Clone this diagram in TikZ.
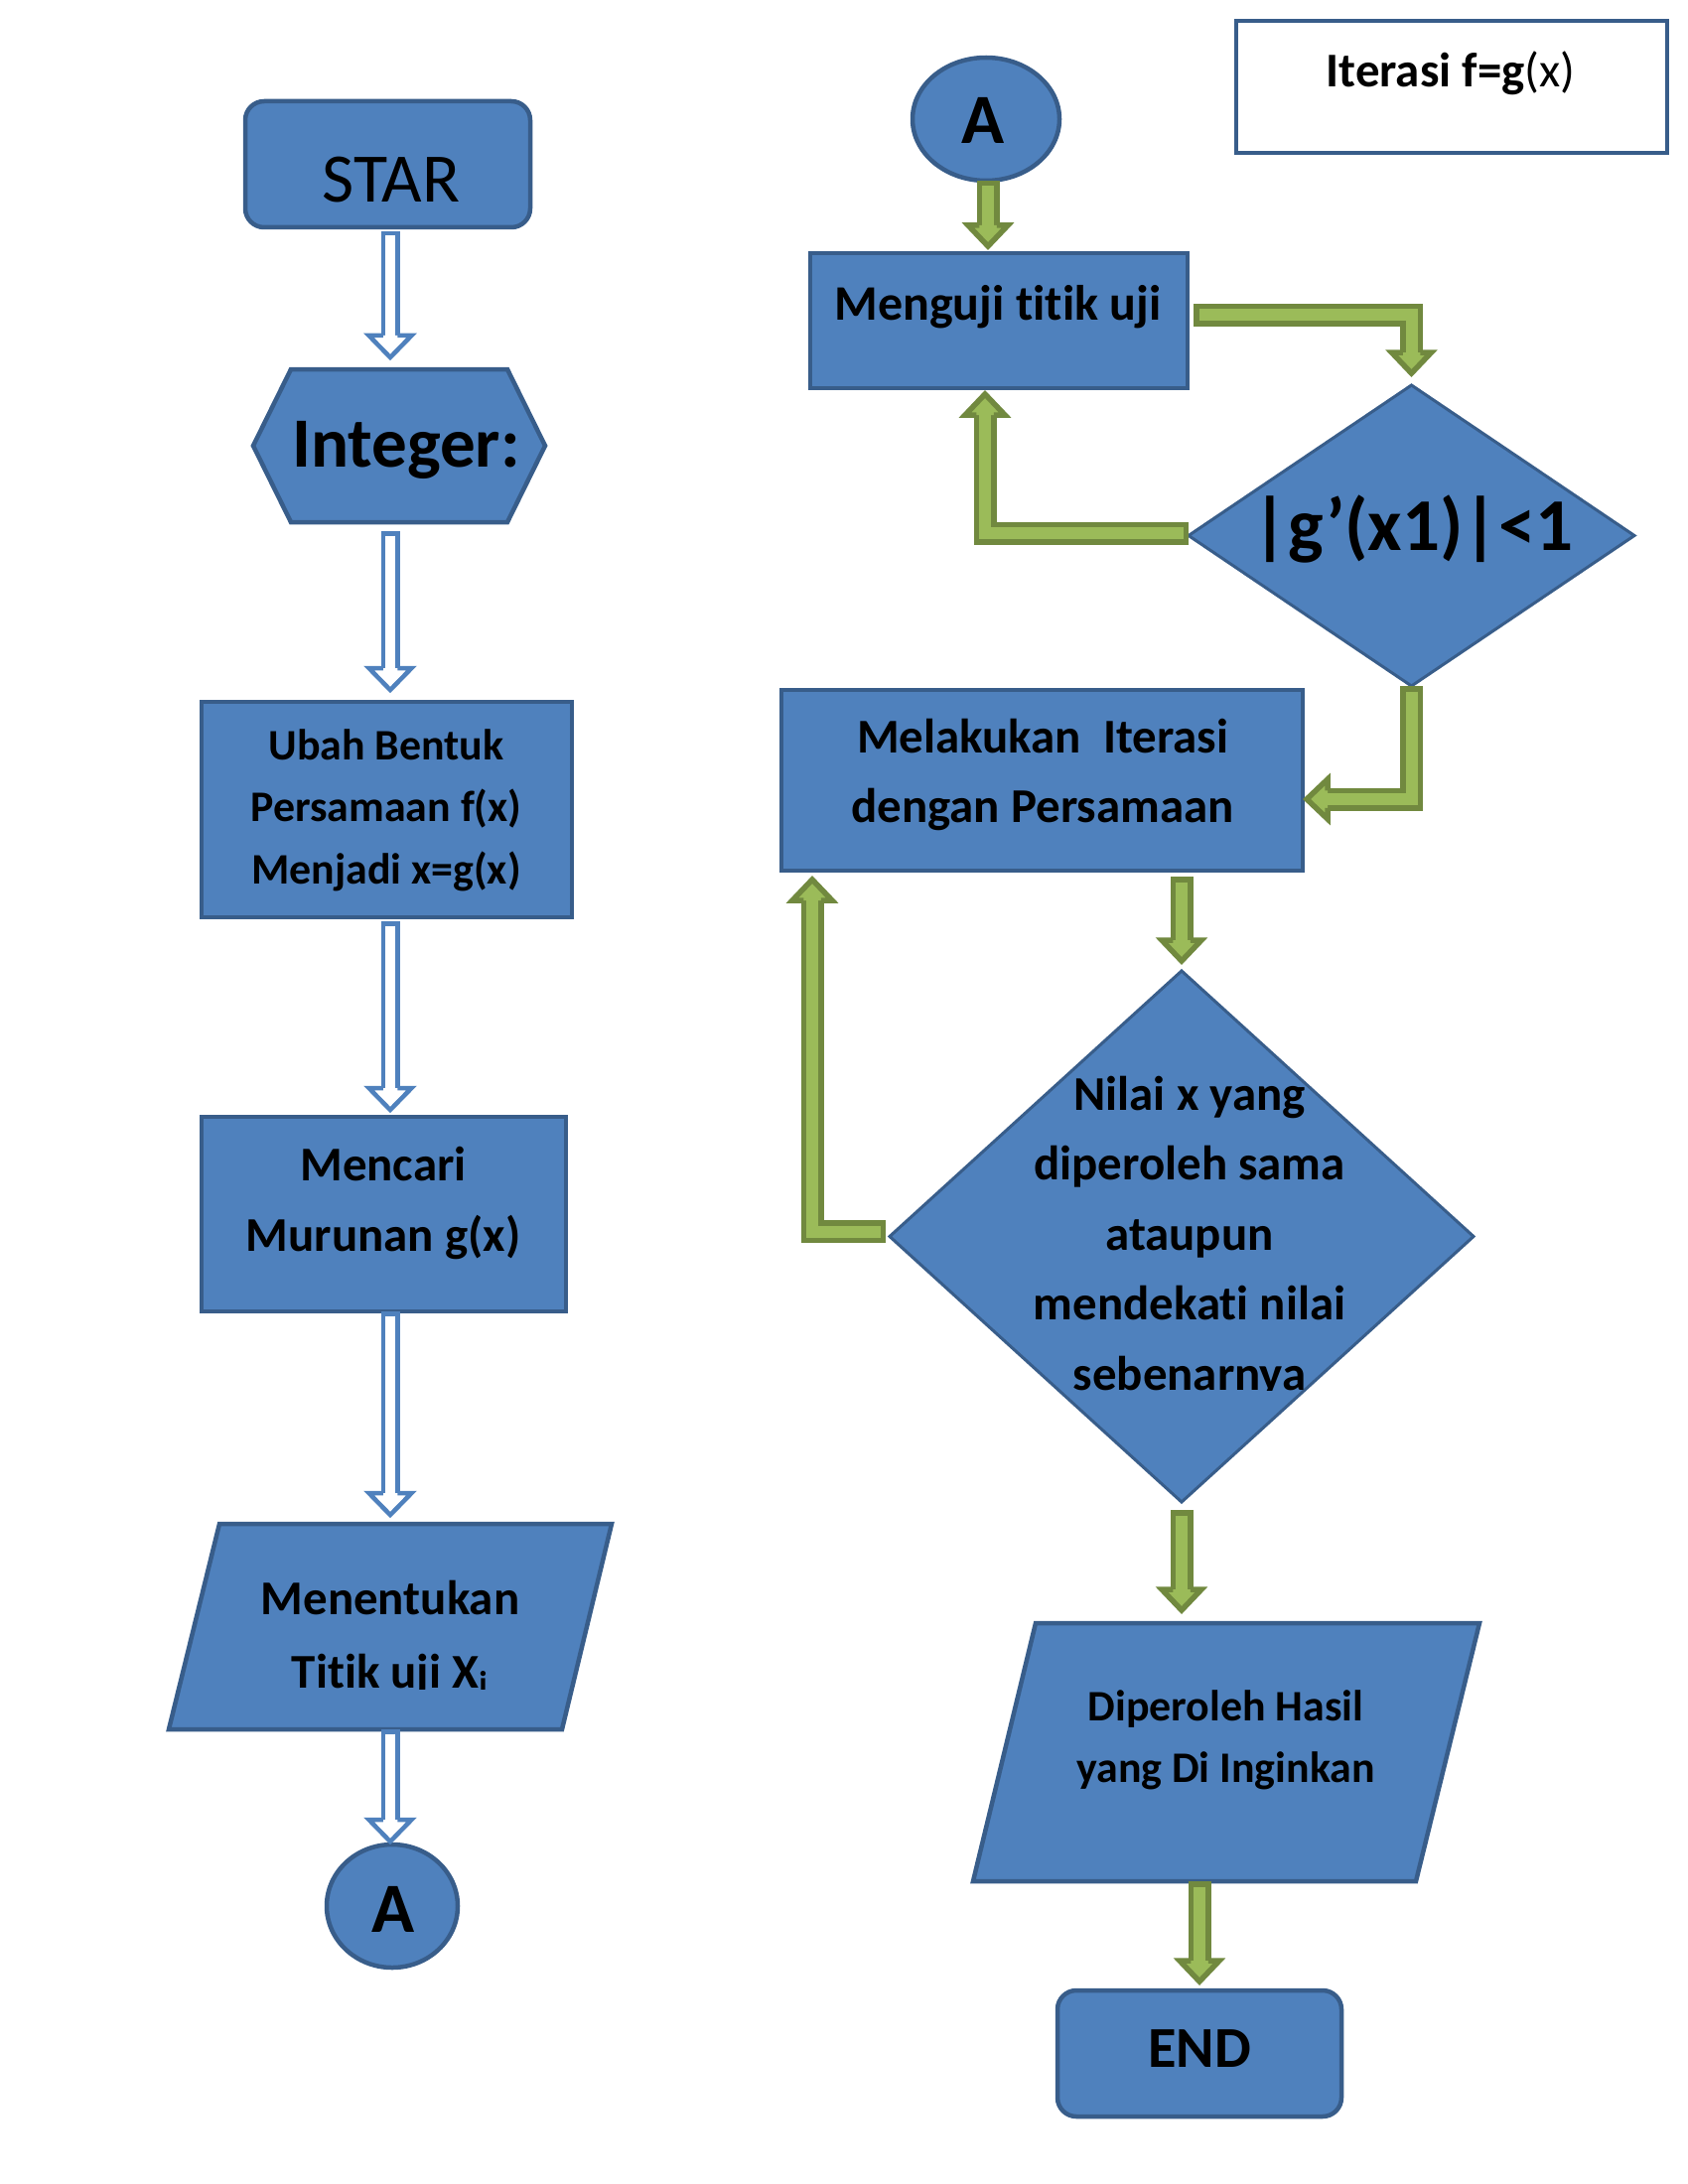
\documentclass[tikz,border=0pt]{standalone}
\usepackage{fontspec}
\setmainfont{Carlito}[Ligatures={NoCommon}]
\usetikzlibrary{shapes.geometric,calc}
\definecolor{bfill}{HTML}{4F81BD}
\definecolor{bline}{HTML}{385D8A}
\definecolor{gfill}{HTML}{9BBB59}
\definecolor{gline}{HTML}{71893F}
\newcommand\fs[2]{\fontsize{#1}{#2}\selectfont}
\newcommand\bconn[3]{\draw[bout] #1; \draw[bin] #1; \pic[rotate=#3] at (#2) {bhead};}
\newcommand\gconn[3]{\draw[gout] #1; \draw[gin] #1; \pic[rotate=#3] at (#2) {ghead};}
\tikzset{
  bshape/.style={draw=bline, fill=bfill, line width=1.62pt, inner sep=0pt, outer sep=0pt},
  frame/.style={draw=none, inner sep=0pt, outer sep=0pt},
  txt/.style={inner sep=0pt, outer sep=0pt, align=center, text=black},
  bout/.style={draw=bfill, line width=6.84pt, line join=miter, shorten >=7.92pt},
  bin/.style={draw=white, line width=3.6pt, line join=miter, shorten <=1.62pt, shorten >=7.92pt},
  gout/.style={draw=gline, line width=8.28pt, line join=miter, shorten >=7.56pt},
  gin/.style={draw=gfill, line width=4.32pt, line join=miter, shorten <=1.98pt, shorten >=7.56pt},
  bhead/.pic={\filldraw[draw=bfill, fill=white, line width=1.62pt, line join=miter] (-22,7.25) -- (-22,21.5) -- (0,0) -- (-22,-21.5) -- (-22,-7.25);},
  ghead/.pic={\filldraw[draw=gline, fill=gfill, line width=1.98pt, line join=miter] (-21,8.75) -- (-21,20) -- (0,0) -- (-21,-20) -- (-21,-8.75);}
}
\begin{document}
\begin{tikzpicture}[x=0.36pt,y=-0.36pt]
\fill[white] (0,0) rectangle (1700,2200);
\useasboundingbox (0,0) rectangle (1700,2200);

% ---------- left column ----------
\node[bshape, rounded corners=6.84pt, minimum width=103.32pt, minimum height=45.72pt] (star) at (390.5,165.5) {};
\node[txt, anchor=base, font=\fs{25.2}{30}] (star-t) at (394,204) {STAR};

\node[frame, minimum width=78.48pt, minimum height=55.44pt] (hex) at (402,449) {};
\draw[bshape] (hex.north west) -- (hex.north east) -- ($(hex.east)+(38,0)$) -- (hex.south east) -- (hex.south west) -- ($(hex.west)+(-38,0)$) -- cycle;
\node[txt, anchor=base, font=\fs{25.6}{30}\bfseries] (hex-t) at (409,470) {Integer:};

\node[bshape, minimum width=134.28pt, minimum height=78.12pt] (ubah) at (389.5,815.5) {};
\node[txt, anchor=north, font=\fs{15.8}{22.5}\bfseries] (ubah-t) at (389,721.25)
  {\strut Ubah Bentuk\\\strut Persamaan f(x)\\\strut Menjadi x=g(x)};

\node[bshape, minimum width=132.12pt, minimum height=70.56pt] (mencari) at (386.5,1223) {};
\node[txt, anchor=north, font=\fs{17.6}{25.56}\bfseries] (mencari-t) at (386,1139.3)
  {\strut Mencari\\\strut Murunan g(x)};

\node[frame, minimum width=142.56pt, minimum height=74.52pt] (ment) at (393,1638.5) {};
\draw[bshape, shift={(ment.center)}] (-172,-103.5) -- (223,-103.5) -- (173,103.5) -- (-223,103.5) -- cycle;
\begin{scope}
\clip (0,0) rectangle (1700,1701);
\node[txt, anchor=north, font=\fs{17.6}{26.64}\bfseries] (ment-t) at (393,1574.2)
  {\strut Menentukan\\\strut Titik uji X\textsubscript{i}};
\end{scope}

\node[bshape, ellipse, minimum width=47.52pt, minimum height=44.64pt] (a1) at (395,1920) {};
\node[txt, anchor=base, font=\fs{25.6}{30}\bfseries] (a1-t) at (396,1946) {A};

% ---------- right column ----------
\node[draw=bline, fill=white, line width=1.44pt, inner sep=0pt, minimum width=156.24pt, minimum height=47.88pt] (title) at (1462,87.5) {};
\node[txt, anchor=base, font=\fs{17.6}{22}\bfseries] (title-t) at (1461,88) {Iterasi f=g{\mdseries(x)}};

\node[bshape, ellipse, minimum width=53.28pt, minimum height=44.64pt] (a2) at (993,120) {};
\node[txt, anchor=base, font=\fs{25.6}{30}\bfseries] (a2-t) at (990,145) {A};

\node[bshape, minimum width=136.8pt, minimum height=48.96pt] (menguji) at (1006,323) {};
\node[txt, anchor=base, font=\fs{18}{22}\bfseries] (menguji-t) at (1005,323) {Menguji titik uji};

\node[bshape, diamond, line width=1.08pt, minimum width=161.64pt, minimum height=109.08pt] (d1) at (1421.5,539.5) {};
\node[txt, anchor=base, font=\fs{27}{32}\bfseries] (d1-t) at (1423,554) {|g’(x1)|<1};

\node[bshape, minimum width=189pt, minimum height=65.52pt] (melakukan) at (1049.5,786) {};
\node[txt, anchor=north, font=\fs{17.6}{25.2}\bfseries] (melakukan-t) at (1050,709)
  {\strut Melakukan\ \ Iterasi\\\strut dengan Persamaan};

\node[bshape, diamond, line width=1.08pt, minimum width=211.68pt, minimum height=192.6pt] (d2) at (1190,1245.5) {};
\begin{scope}
\clip (0,0) rectangle (1700,1400);
\node[txt, anchor=north, font=\fs{17.6}{25.38}\bfseries] (d2-t) at (1198,1068.65)
  {\strut Nilai x yang\\\strut diperoleh sama\\\strut ataupun\\\strut mendekati nilai\\\strut sebenarnya};
\end{scope}

\node[frame, minimum width=160.92pt, minimum height=93.6pt] (dip) at (1234.75,1765) {};
\draw[bshape, shift={(dip.center)}] (-191.75,-130) -- (255.25,-130) -- (191.25,130) -- (-254.75,130) -- cycle;
\node[txt, anchor=north, font=\fs{15.8}{22.32}\bfseries] (dip-t) at (1234.5,1689.6)
  {\strut Diperoleh Hasil\\\strut yang Di Inginkan};

\node[bshape, rounded corners=6.84pt, minimum width=102.96pt, minimum height=45.72pt] (endb) at (1208,2068.5) {};
\node[txt, anchor=base, font=\fs{21}{26}\bfseries] (endb-t) at (1208,2082) {END};

% ---------- blue connectors ----------
\coordinate (lx) at (393,0);
\coordinate (b1s) at ($(lx |- star.south)+(0,4)$);
\coordinate (b1e) at ($(lx |- hex.north)+(0,-12)$);
\coordinate (b2s) at ($(lx |- hex.south)+(0,9)$);
\coordinate (b2e) at ($(lx |- ubah.north)+(0,-12)$);
\coordinate (b3s) at ($(lx |- ubah.south)+(0,4)$);
\coordinate (b3e) at ($(lx |- mencari.north)+(0,-7)$);
\coordinate (b4s) at (lx |- mencari.south);
\coordinate (b4e) at ($(lx |- ment.north)+(0,-9)$);
\coordinate (b5s) at (lx |- ment.south);
\coordinate (b5e) at ($(lx |- a1.north)+(0,-3)$);
\bconn{(b1s) -- (b1e)}{b1e}{-90}
\bconn{(b2s) -- (b2e)}{b2e}{-90}
\bconn{(b3s) -- (b3e)}{b3e}{-90}
\bconn{(b4s) -- (b4e)}{b4e}{-90}
\bconn{(b5s) -- (b5e)}{b5e}{-90}

% ---------- green connectors ----------
\coordinate (g1s) at ($(a2.south)+(2,0)$);
\coordinate (g1e) at ($(g1s |- menguji.north)+(0,-7)$);
\gconn{(g1s) -- (g1e)}{g1e}{-90}

\coordinate (g2s) at ($(menguji.east)+(6,-5.5)$);
\coordinate (g2e) at ($(d1.north)+(0,-12)$);
\gconn{(g2s) -- (g2e |- g2s) -- (g2e)}{g2e}{-90}

\coordinate (g3s) at ($(d1.west)+(0,-2.5)$);
\coordinate (g3c) at ($(menguji.south)+(-14,0)$);
\coordinate (g3e) at ($(g3c)+(0,6)$);
\gconn{(g3s) -- (g3c |- g3s) -- (g3e)}{g3e}{90}

\coordinate (g4s) at (d1.south);
\coordinate (g4e) at ($(melakukan.east)+(4,19)$);
\gconn{(g4s) -- (g4s |- g4e) -- (g4e)}{g4e}{180}

\coordinate (g5s) at ($(d2.north |- melakukan.south)+(0,6)$);
\coordinate (g5e) at ($(d2.north)+(0,-10)$);
\gconn{(g5s) -- (g5e)}{g5e}{-90}

\coordinate (g6s) at ($(d2.west)+(-4,-5)$);
\coordinate (g6e) at ($(melakukan.south west)+(31,9)$);
\gconn{(g6s) -- (g6e |- g6s) -- (g6e)}{g6e}{90}

\coordinate (g7s) at ($(d2.south)+(0,8)$);
\coordinate (g7e) at ($(g7s |- dip.north)+(0,-13)$);
\gconn{(g7s) -- (g7e)}{g7e}{-90}

\coordinate (g8s) at (endb.north |- dip.south);
\coordinate (g8e) at ($(endb.north)+(0,-9)$);
\gconn{(g8s) -- (g8e)}{g8e}{-90}
\end{tikzpicture}
\end{document}
